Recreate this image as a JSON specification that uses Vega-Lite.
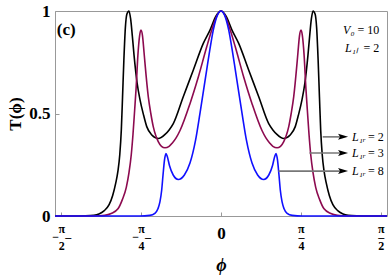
{
  "$schema": "https://vega.github.io/schema/vega-lite/v6.json",
  "width": 332,
  "height": 205,
  "autosize": {"type": "none"},
  "padding": {"left": 55, "top": 11, "right": 1, "bottom": 59},
  "config": {"view": {"stroke": "#999999", "strokeWidth": 1}, "font": "Liberation Serif"},
  "datasets": {
    "curves": [
      {"phi": -1.632, "T": 0, "s": "2"}, {"phi": -1.45, "T": 0, "s": "2"}, {"phi": -1.35, "T": 0.001, "s": "2"}, {"phi": -1.25, "T": 0.004, "s": "2"}, {"phi": -1.2, "T": 0.01, "s": "2"}, {"phi": -1.15, "T": 0.025, "s": "2"}, {"phi": -1.1, "T": 0.055, "s": "2"}, {"phi": -1.065, "T": 0.1, "s": "2"}, {"phi": -1.035, "T": 0.16, "s": "2"}, {"phi": -1.013, "T": 0.22, "s": "2"}, {"phi": -0.995, "T": 0.3, "s": "2"}, {"phi": -0.98, "T": 0.42, "s": "2"}, {"phi": -0.968, "T": 0.58, "s": "2"}, {"phi": -0.955, "T": 0.76, "s": "2"}, {"phi": -0.94, "T": 0.92, "s": "2"}, {"phi": -0.925, "T": 0.985, "s": "2"}, {"phi": -0.905, "T": 1, "s": "2"}, {"phi": -0.888, "T": 0.96, "s": "2"}, {"phi": -0.872, "T": 0.88, "s": "2"}, {"phi": -0.855, "T": 0.785, "s": "2"}, {"phi": -0.825, "T": 0.65, "s": "2"}, {"phi": -0.796, "T": 0.566, "s": "2"}, {"phi": -0.76, "T": 0.49, "s": "2"}, {"phi": -0.73, "T": 0.436, "s": "2"}, {"phi": -0.68, "T": 0.395, "s": "2"}, {"phi": -0.617, "T": 0.378, "s": "2"}, {"phi": -0.55, "T": 0.398, "s": "2"}, {"phi": -0.51, "T": 0.42, "s": "2"}, {"phi": -0.469, "T": 0.451, "s": "2"}, {"phi": -0.371, "T": 0.582, "s": "2"}, {"phi": -0.272, "T": 0.712, "s": "2"}, {"phi": -0.174, "T": 0.842, "s": "2"}, {"phi": -0.108, "T": 0.907, "s": "2"}, {"phi": -0.05, "T": 0.975, "s": "2"}, {"phi": 0, "T": 1, "s": "2"},
      {"phi": 0.05, "T": 0.975, "s": "2"}, {"phi": 0.108, "T": 0.907, "s": "2"}, {"phi": 0.174, "T": 0.842, "s": "2"}, {"phi": 0.272, "T": 0.712, "s": "2"}, {"phi": 0.371, "T": 0.582, "s": "2"}, {"phi": 0.469, "T": 0.451, "s": "2"}, {"phi": 0.51, "T": 0.42, "s": "2"}, {"phi": 0.55, "T": 0.398, "s": "2"}, {"phi": 0.617, "T": 0.378, "s": "2"}, {"phi": 0.68, "T": 0.395, "s": "2"}, {"phi": 0.73, "T": 0.436, "s": "2"}, {"phi": 0.76, "T": 0.49, "s": "2"}, {"phi": 0.796, "T": 0.566, "s": "2"}, {"phi": 0.825, "T": 0.65, "s": "2"}, {"phi": 0.855, "T": 0.785, "s": "2"}, {"phi": 0.872, "T": 0.88, "s": "2"}, {"phi": 0.888, "T": 0.96, "s": "2"}, {"phi": 0.905, "T": 1, "s": "2"}, {"phi": 0.925, "T": 0.985, "s": "2"}, {"phi": 0.94, "T": 0.92, "s": "2"}, {"phi": 0.955, "T": 0.76, "s": "2"}, {"phi": 0.968, "T": 0.58, "s": "2"}, {"phi": 0.98, "T": 0.42, "s": "2"}, {"phi": 0.995, "T": 0.3, "s": "2"}, {"phi": 1.013, "T": 0.22, "s": "2"}, {"phi": 1.035, "T": 0.16, "s": "2"}, {"phi": 1.065, "T": 0.1, "s": "2"}, {"phi": 1.1, "T": 0.055, "s": "2"}, {"phi": 1.15, "T": 0.025, "s": "2"}, {"phi": 1.2, "T": 0.01, "s": "2"}, {"phi": 1.25, "T": 0.004, "s": "2"}, {"phi": 1.35, "T": 0.001, "s": "2"}, {"phi": 1.45, "T": 0, "s": "2"}, {"phi": 1.632, "T": 0, "s": "2"},

      {"phi": -1.632, "T": 0, "s": "3"}, {"phi": -1.3, "T": 0, "s": "3"}, {"phi": -1.2, "T": 0.001, "s": "3"}, {"phi": -1.144, "T": 0.003, "s": "3"}, {"phi": -1.08, "T": 0.012, "s": "3"}, {"phi": -1.013, "T": 0.035, "s": "3"}, {"phi": -0.97, "T": 0.08, "s": "3"}, {"phi": -0.931, "T": 0.14, "s": "3"}, {"phi": -0.905, "T": 0.21, "s": "3"}, {"phi": -0.882, "T": 0.3, "s": "3"}, {"phi": -0.865, "T": 0.4, "s": "3"}, {"phi": -0.849, "T": 0.516, "s": "3"}, {"phi": -0.835, "T": 0.62, "s": "3"}, {"phi": -0.817, "T": 0.785, "s": "3"}, {"phi": -0.8, "T": 0.88, "s": "3"}, {"phi": -0.787, "T": 0.907, "s": "3"}, {"phi": -0.772, "T": 0.88, "s": "3"}, {"phi": -0.757, "T": 0.8, "s": "3"}, {"phi": -0.747, "T": 0.743, "s": "3"}, {"phi": -0.715, "T": 0.582, "s": "3"}, {"phi": -0.69, "T": 0.5, "s": "3"}, {"phi": -0.666, "T": 0.436, "s": "3"}, {"phi": -0.64, "T": 0.39, "s": "3"}, {"phi": -0.617, "T": 0.363, "s": "3"}, {"phi": -0.585, "T": 0.34, "s": "3"}, {"phi": -0.551, "T": 0.333, "s": "3"}, {"phi": -0.51, "T": 0.34, "s": "3"}, {"phi": -0.48, "T": 0.355, "s": "3"}, {"phi": -0.44, "T": 0.382, "s": "3"}, {"phi": -0.403, "T": 0.417, "s": "3"}, {"phi": -0.305, "T": 0.548, "s": "3"}, {"phi": -0.223, "T": 0.678, "s": "3"}, {"phi": -0.141, "T": 0.824, "s": "3"}, {"phi": -0.091, "T": 0.907, "s": "3"}, {"phi": -0.04, "T": 0.978, "s": "3"}, {"phi": 0, "T": 1, "s": "3"},
      {"phi": 0.04, "T": 0.978, "s": "3"}, {"phi": 0.091, "T": 0.907, "s": "3"}, {"phi": 0.141, "T": 0.824, "s": "3"}, {"phi": 0.223, "T": 0.678, "s": "3"}, {"phi": 0.305, "T": 0.548, "s": "3"}, {"phi": 0.403, "T": 0.417, "s": "3"}, {"phi": 0.44, "T": 0.382, "s": "3"}, {"phi": 0.48, "T": 0.355, "s": "3"}, {"phi": 0.51, "T": 0.34, "s": "3"}, {"phi": 0.551, "T": 0.333, "s": "3"}, {"phi": 0.585, "T": 0.34, "s": "3"}, {"phi": 0.617, "T": 0.363, "s": "3"}, {"phi": 0.64, "T": 0.39, "s": "3"}, {"phi": 0.666, "T": 0.436, "s": "3"}, {"phi": 0.69, "T": 0.5, "s": "3"}, {"phi": 0.715, "T": 0.582, "s": "3"}, {"phi": 0.747, "T": 0.743, "s": "3"}, {"phi": 0.757, "T": 0.8, "s": "3"}, {"phi": 0.772, "T": 0.88, "s": "3"}, {"phi": 0.787, "T": 0.907, "s": "3"}, {"phi": 0.8, "T": 0.88, "s": "3"}, {"phi": 0.817, "T": 0.785, "s": "3"}, {"phi": 0.835, "T": 0.62, "s": "3"}, {"phi": 0.849, "T": 0.516, "s": "3"}, {"phi": 0.865, "T": 0.4, "s": "3"}, {"phi": 0.882, "T": 0.3, "s": "3"}, {"phi": 0.905, "T": 0.21, "s": "3"}, {"phi": 0.931, "T": 0.14, "s": "3"}, {"phi": 0.97, "T": 0.08, "s": "3"}, {"phi": 1.013, "T": 0.035, "s": "3"}, {"phi": 1.08, "T": 0.012, "s": "3"}, {"phi": 1.144, "T": 0.003, "s": "3"}, {"phi": 1.2, "T": 0.001, "s": "3"}, {"phi": 1.3, "T": 0, "s": "3"}, {"phi": 1.632, "T": 0, "s": "3"},

      {"phi": -1.632, "T": 0, "s": "8"}, {"phi": -0.8, "T": 0, "s": "8"}, {"phi": -0.7, "T": 0.003, "s": "8"}, {"phi": -0.65, "T": 0.013, "s": "8"}, {"phi": -0.62, "T": 0.035, "s": "8"}, {"phi": -0.6, "T": 0.07, "s": "8"}, {"phi": -0.583, "T": 0.127, "s": "8"}, {"phi": -0.57, "T": 0.2, "s": "8"}, {"phi": -0.555, "T": 0.275, "s": "8"}, {"phi": -0.541, "T": 0.305, "s": "8"}, {"phi": -0.528, "T": 0.29, "s": "8"}, {"phi": -0.506, "T": 0.245, "s": "8"}, {"phi": -0.47, "T": 0.2, "s": "8"}, {"phi": -0.42, "T": 0.178, "s": "8"}, {"phi": -0.36, "T": 0.2, "s": "8"}, {"phi": -0.305, "T": 0.258, "s": "8"}, {"phi": -0.25, "T": 0.37, "s": "8"}, {"phi": -0.206, "T": 0.503, "s": "8"}, {"phi": -0.141, "T": 0.712, "s": "8"}, {"phi": -0.11, "T": 0.81, "s": "8"}, {"phi": -0.076, "T": 0.907, "s": "8"}, {"phi": -0.035, "T": 0.98, "s": "8"}, {"phi": 0, "T": 1, "s": "8"},
      {"phi": 0.035, "T": 0.98, "s": "8"}, {"phi": 0.076, "T": 0.907, "s": "8"}, {"phi": 0.11, "T": 0.81, "s": "8"}, {"phi": 0.141, "T": 0.712, "s": "8"}, {"phi": 0.206, "T": 0.503, "s": "8"}, {"phi": 0.25, "T": 0.37, "s": "8"}, {"phi": 0.305, "T": 0.258, "s": "8"}, {"phi": 0.36, "T": 0.2, "s": "8"}, {"phi": 0.42, "T": 0.178, "s": "8"}, {"phi": 0.47, "T": 0.2, "s": "8"}, {"phi": 0.506, "T": 0.245, "s": "8"}, {"phi": 0.528, "T": 0.29, "s": "8"}, {"phi": 0.541, "T": 0.305, "s": "8"}, {"phi": 0.555, "T": 0.275, "s": "8"}, {"phi": 0.57, "T": 0.2, "s": "8"}, {"phi": 0.583, "T": 0.127, "s": "8"}, {"phi": 0.6, "T": 0.07, "s": "8"}, {"phi": 0.62, "T": 0.035, "s": "8"}, {"phi": 0.65, "T": 0.013, "s": "8"}, {"phi": 0.7, "T": 0.003, "s": "8"}, {"phi": 0.8, "T": 0, "s": "8"}, {"phi": 1.632, "T": 0, "s": "8"}
    ],
    "arrows": [
      {"s": "2", "start": 1.0, "tip": 1.2, "level": 0.386, "name": "L₁ᵣ", "eq": "= 2"},
      {"s": "3", "start": 0.87, "tip": 1.2, "level": 0.307, "name": "L₁ᵣ", "eq": "= 3"},
      {"s": "8", "start": 0.565, "tip": 1.2, "level": 0.219, "name": "L₁ᵣ", "eq": "= 8"}
    ]
  },
  "layer": [
    {
      "data": {"name": "curves"},
      "mark": {"type": "line", "interpolate": "monotone", "strokeWidth": 1.6},
      "encoding": {
        "x": {
          "field": "phi", "type": "quantitative",
          "scale": {"domain": [-1.632, 1.632], "nice": false, "zero": false},
          "axis": {
            "values": [-1.5707963, -0.7853982, 0, 0.7853982, 1.5707963],
            "labelExpr": "datum.value < -1 ? ['\u00a0\u00a0\u00a0\u00a0π', '−\u2002–', '\u00a0\u00a0\u00a0\u00a02'] : datum.value < -0.5 ? ['\u00a0\u00a0\u00a0\u00a0π', '−\u2002–', '\u00a0\u00a0\u00a0\u00a04'] : datum.value < 0.5 ? '0' : datum.value < 1 ? ['π', '–', '4'] : ['π', '–', '2']",
            "grid": false, "domain": false,
            "tickSize": -4, "tickColor": "#999999", "tickWidth": 1,
            "labelFont": "Liberation Serif", "labelFontWeight": "bold",
            "labelFontSize": {"condition": {"test": "datum.value == 0", "value": 17}, "value": 12},
            "labelColor": "#000000", "labelBaseline": "middle", "labelLineHeight": 8.5,
            "labelPadding": {"condition": {"test": "datum.value == 0", "value": 21}, "value": 16},
            "labelFlush": false, "labelOverlap": false,
            "title": "ϕ", "titleFont": "Liberation Serif", "titleFontWeight": "bold", "titleFontStyle": "italic",
            "titleFontSize": 18, "titleColor": "#000000", "titlePadding": 5
          }
        },
        "y": {
          "field": "T", "type": "quantitative",
          "scale": {"domain": [0, 1], "nice": false},
          "axis": {
            "values": [0, 0.5, 1],
            "labelExpr": "datum.value == 0.5 ? '0.5' : datum.value == 1 ? '1' : '0'",
            "grid": false, "domain": false,
            "tickSize": -4, "tickColor": "#999999", "tickWidth": 1,
            "labelFont": "Liberation Serif", "labelFontWeight": "bold", "labelFontSize": 17,
            "labelColor": "#000000", "labelPadding": 9, "labelFlush": false, "labelOverlap": false,
            "title": "T(ϕ)", "titleFont": "Liberation Serif", "titleFontWeight": "bold",
            "titleFontSize": 17, "titleColor": "#000000", "titlePadding": 4
          }
        },
        "color": {
          "field": "s", "type": "nominal",
          "scale": {"domain": ["2", "3", "8"], "range": ["#000000", "#8c0a4f", "#1010ff"]},
          "legend": null
        }
      }
    },
    {
      "data": {"name": "arrows"},
      "mark": {"type": "rule", "color": "#777777", "strokeWidth": 1.6},
      "encoding": {
        "x": {"field": "start", "type": "quantitative"},
        "x2": {"field": "tip"},
        "y": {"field": "level", "type": "quantitative"}
      }
    },
    {
      "data": {"name": "arrows"},
      "mark": {"type": "point", "shape": "M-1,-0.6L1,0L-1,0.6L-0.6,0Z", "filled": true, "color": "#000000", "opacity": 1, "size": 100},
      "encoding": {
        "x": {"field": "tip", "type": "quantitative"},
        "y": {"field": "level", "type": "quantitative"}
      }
    },
    {
      "data": {"name": "arrows"},
      "mark": {"type": "text", "align": "left", "baseline": "middle", "font": "Liberation Serif", "fontStyle": "italic", "fontSize": 12, "dx": 9, "color": "#000000"},
      "encoding": {
        "x": {"field": "tip", "type": "quantitative"},
        "y": {"field": "level", "type": "quantitative"},
        "text": {"field": "name"}
      }
    },
    {
      "data": {"name": "arrows"},
      "mark": {"type": "text", "align": "left", "baseline": "middle", "font": "Liberation Serif", "fontSize": 12, "dx": 25, "color": "#000000"},
      "encoding": {
        "x": {"field": "tip", "type": "quantitative"},
        "y": {"field": "level", "type": "quantitative"},
        "text": {"field": "eq"}
      }
    },
    {
      "data": {"values": [{}]},
      "mark": {"type": "text", "align": "left", "baseline": "middle", "font": "Liberation Serif", "fontWeight": "bold", "fontSize": 17, "color": "#000000"},
      "encoding": {
        "x": {"datum": -1.615, "type": "quantitative"},
        "y": {"datum": 0.908, "type": "quantitative"},
        "text": {"value": "(c)"}
      }
    },
    {
      "data": {"values": [{}]},
      "mark": {"type": "text", "align": "right", "baseline": "middle", "font": "Liberation Serif", "fontSize": 12, "color": "#000000"},
      "encoding": {
        "x": {"datum": 1.556, "type": "quantitative"},
        "y": {"datum": 0.908, "type": "quantitative"},
        "text": {"value": "= 10"}
      }
    },
    {
      "data": {"values": [{}]},
      "mark": {"type": "text", "align": "left", "baseline": "middle", "font": "Liberation Serif", "fontStyle": "italic", "fontSize": 12, "color": "#000000"},
      "encoding": {
        "x": {"datum": 1.2, "type": "quantitative"},
        "y": {"datum": 0.908, "type": "quantitative"},
        "text": {"value": "V₀"}
      }
    },
    {
      "data": {"values": [{}]},
      "mark": {"type": "text", "align": "right", "baseline": "middle", "font": "Liberation Serif", "fontSize": 12, "color": "#000000"},
      "encoding": {
        "x": {"datum": 1.556, "type": "quantitative"},
        "y": {"datum": 0.82, "type": "quantitative"},
        "text": {"value": "= 2"}
      }
    },
    {
      "data": {"values": [{}]},
      "mark": {"type": "text", "align": "left", "baseline": "middle", "font": "Liberation Serif", "fontStyle": "italic", "fontSize": 12, "color": "#000000"},
      "encoding": {
        "x": {"datum": 1.22, "type": "quantitative"},
        "y": {"datum": 0.82, "type": "quantitative"},
        "text": {"value": "L₁ₗ"}
      }
    }
  ]
}
